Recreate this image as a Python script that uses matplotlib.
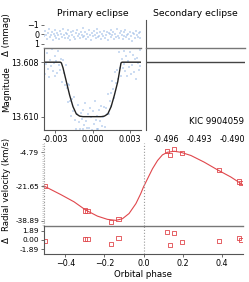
import numpy as np
import matplotlib
matplotlib.use('Agg')
import matplotlib.pyplot as plt
import matplotlib.ticker

# ---- データ ----
# 主食 (primary eclipse) の測光
lc_phase = [-0.00386, -0.00379, -0.00371, -0.00366, -0.00357, -0.00349, -0.00343, -0.00336, -0.00327, -0.0032,
            -0.00312, -0.00305, -0.00298, -0.0029, -0.00283, -0.00274, -0.00268, -0.00261, -0.00252, -0.00245,
            -0.00238, -0.0023, -0.00222, -0.00215, -0.00208, -0.002, -0.00193, -0.00185, -0.00177, -0.00171,
            -0.00163, -0.00155, -0.00148, -0.0014, -0.00133, -0.00125, -0.00118, -0.0011, -0.00103, -0.00095,
            -0.00087, -0.0008, -0.00073, -0.00065, -0.00058, -0.0005, -0.00042, -0.00035, -0.00027, -0.0002,
            -0.00012, -0.00005, 0.00003, 0.0001, 0.00018, 0.00025, 0.00033, 0.0004, 0.00047, 0.00055,
            0.00062, 0.0007, 0.00078, 0.00085, 0.00092, 0.001, 0.00108, 0.00115, 0.00122, 0.0013,
            0.00137, 0.00145, 0.00152, 0.0016, 0.00167, 0.00175, 0.00183, 0.0019, 0.00197, 0.00205,
            0.00212, 0.0022, 0.00227, 0.00235, 0.00243, 0.0025, 0.00257, 0.00265, 0.00272, 0.0028,
            0.00287, 0.00295, 0.00302, 0.0031, 0.00318, 0.00325, 0.00333, 0.0034, 0.00347, 0.00355,
            0.00362, 0.0037, 0.00378, 0.00385]
lc_mag = [13.60782, 13.60842, 13.60807, 13.60767, 13.60825, 13.60856, 13.60791, 13.60814, 13.60753, 13.60831,
          13.60802, 13.60778, 13.60849, 13.60794, 13.60838, 13.60759, 13.60811, 13.60827, 13.60789, 13.60871,
          13.60792, 13.60838, 13.60883, 13.60810, 13.60895, 13.60881, 13.60948, 13.60883, 13.60941, 13.60996,
          13.60935, 13.60979, 13.60929, 13.61011, 13.61044, 13.60990, 13.60958, 13.61020, 13.61046, 13.60986,
          13.61009, 13.61045, 13.60974, 13.61032, 13.60951, 13.61017, 13.61040, 13.60992, 13.61040, 13.60969,
          13.61003, 13.61048, 13.60981, 13.61026, 13.60943, 13.61012, 13.61045, 13.60996, 13.61046, 13.60977,
          13.61015, 13.60960, 13.61033, 13.61003, 13.60964, 13.61038, 13.60968, 13.60992, 13.60918, 13.60989,
          13.60941, 13.60912, 13.60960, 13.60868, 13.60900, 13.60933, 13.60836, 13.60875, 13.60827, 13.60860,
          13.60762, 13.60821, 13.60849, 13.60787, 13.60823, 13.60758, 13.60805, 13.60831, 13.60779, 13.60852,
          13.60794, 13.60818, 13.60763, 13.60844, 13.60809, 13.60773, 13.60835, 13.60789, 13.60861, 13.60784,
          13.60802, 13.60827, 13.60756, 13.60813]
lc_resid = [0.21, -0.34, 0.05, 0.48, -0.12, -0.55, 0.3, 0.02, -0.27, 0.61,
            -0.08, 0.19, -0.43, 0.36, -0.15, 0.07, 0.52, -0.31, -0.02, 0.25,
            -0.6, 0.11, 0.4, -0.19, -0.05, 0.33, -0.41, 0.14, 0.58, -0.24,
            0.03, -0.37, 0.22, 0.45, -0.1, -0.5, 0.17, 0.0, 0.39, -0.28,
            0.09, -0.66, 0.27, 0.12, -0.2, 0.5, -0.06, 0.31, -0.45, 0.04,
            0.62, -0.17, 0.2, -0.33, 0.08, 0.41, -0.11, -0.52, 0.26, 0.13,
            -0.29, 0.47, -0.03, 0.18, -0.39, 0.35, 0.06, -0.22, 0.55, -0.14,
            0.01, -0.48, 0.29, 0.1, -0.26, 0.43, -0.07, 0.23, -0.58, 0.16,
            0.37, -0.13, -0.35, 0.05, 0.5, -0.21, 0.12, -0.44, 0.28, 0.03,
            -0.09, 0.46, -0.3, 0.15, 0.64, -0.18, -0.01, 0.34, -0.4, 0.08,
            0.24, -0.16, 0.42, -0.25]

# 光度曲線モデル
lc_model_phase = [-0.0039, -0.00258, -0.0025, -0.00237, -0.0021, -0.00184, -0.00157, -0.0013, -0.00104, -0.00077,
                  0.0007, 0.00096, 0.00123, 0.0015, 0.00176, 0.00203, 0.00229, 0.00237, 0.0039]
lc_model_mag = [13.608, 13.608, 13.60803, 13.60821, 13.60872, 13.60921, 13.60963, 13.6099, 13.60998, 13.610,
                13.610, 13.60998, 13.6099, 13.60963, 13.60921, 13.60872, 13.60803, 13.608, 13.608]

# 副食 (secondary eclipse) : モデルのみ
sec_model_phase = [-0.4979, -0.4888]
sec_model_mag = [13.608, 13.608]

# 視線速度
rv_phase = [-0.506, -0.301, -0.287, -0.168, -0.128, 0.120, 0.135, 0.156, 0.198, 0.385, 0.489, 0.499]
rv_value = [-21.65, -33.8, -34.0, -39.7, -37.9, -4.1, -6.1, -3.1, -5.4, -13.9, -19.4, -20.2]
rv_resid = [-0.14, 0.14, 0.27, -0.88, 0.47, 1.70, -1.03, 1.50, -0.35, -0.2, 0.47, 0.0]

# 視線速度モデル
rv_model_phase = [-0.51, -0.424, -0.356, -0.296, -0.236, -0.185, -0.142, -0.108, -0.074, -0.039,
                  -0.014, 0.0, 0.021, 0.046, 0.072, 0.097, 0.123, 0.157, 0.191, 0.243,
                  0.311, 0.379, 0.448, 0.513]
rv_model_value = [-21.65, -25.9, -29.5, -33.6, -36.6, -38.2, -38.7, -37.9, -35.3, -30.4,
                  -25.4, -22.1, -18.0, -13.1, -9.0, -6.2, -4.9, -4.4, -4.9, -6.5,
                  -9.8, -13.6, -17.2, -21.3]

# ---- 描画設定 ----
W, H = 249, 282
plt.rcParams['font.family'] = 'DejaVu Sans'
fig = plt.figure(figsize=(W / 100, H / 100), dpi=100)

def box(x0, y0, x1, y1):
    # ピクセル座標 -> figure座標
    return [x0 / W, 1 - y1 / H, (x1 - x0) / W, (y1 - y0) / H]

spine_col = '#555555'
sep_col = '#777777'
pt_col = '#8fb2e3'
red = '#e0474c'
tfs = 5.8
lfs = 6.2

def add(rect):
    ax = fig.add_axes(rect)
    ax.patch.set_visible(False)
    return ax

# 主食 残差
ax_pr = add(box(44, 20, 141, 48.3))
ax_pr.scatter(lc_phase, lc_resid, s=2.5, marker='s', color=pt_col, alpha=0.45, linewidths=0)
ax_pr.set_xlim(-0.0039, 0.0039)
ax_pr.set_ylim(1.45, -1.5)
ax_pr.set_yticks([-1, 0, 1])
ax_pr.set_xticks([])
for s in ['top', 'right', 'left', 'bottom']:
    ax_pr.spines[s].set_visible(False)
ax_pr.tick_params(axis='y', labelsize=tfs, length=2, width=0.6, pad=1.5, color=spine_col)
ax_pr.set_ylabel('Δ (mmag)', fontsize=lfs)
ax_pr.set_title('Primary eclipse', fontsize=6.7, pad=3)

# 主食 光度
ax_pm = add(box(44, 48.3, 141, 130))
ax_pm.scatter(lc_phase, lc_mag, s=2.5, marker='s', color=pt_col, alpha=0.45, linewidths=0)
ax_pm.plot(lc_model_phase, lc_model_mag, color='#222222', linewidth=1.0)
ax_pm.set_xlim(-0.0039, 0.0039)
ax_pm.set_ylim(13.61049, 13.60749)
ax_pm.set_yticks([13.608, 13.610])
ax_pm.set_yticklabels(['13.608', '13.610'])
ax_pm.set_xticks([-0.003, 0.0, 0.003])
ax_pm.set_xticklabels(['-0.003', '0.000', '0.003'])
ax_pm.spines['right'].set_visible(False)
ax_pm.spines['top'].set_color(sep_col)
ax_pm.spines['top'].set_linewidth(1.0)
for s in ['left', 'bottom']:
    ax_pm.spines[s].set_color(spine_col)
    ax_pm.spines[s].set_linewidth(0.8)
ax_pm.tick_params(labelsize=tfs, length=2, width=0.6, pad=1.5, color=spine_col)
ax_pm.set_ylabel('Magnitude', fontsize=lfs)
ax_pm.yaxis.set_label_coords(-0.34, 0.5)
ax_pr.yaxis.set_label_coords(-0.34, 0.5)

# 副食 残差
ax_sr = add(box(146, 20, 245, 48.3))
ax_sr.set_xlim(-0.4979, -0.4888)
ax_sr.set_ylim(1.45, -1.5)
ax_sr.set_xticks([])
ax_sr.set_yticks([])
for s in ['top', 'right', 'bottom']:
    ax_sr.spines[s].set_visible(False)
ax_sr.spines['left'].set_color(spine_col)
ax_sr.spines['left'].set_linewidth(0.8)
ax_sr.set_title('Secondary eclipse', fontsize=6.7, pad=3)

# 副食 光度
ax_sm = add(box(146, 48.3, 245, 130))
ax_sm.plot(sec_model_phase, sec_model_mag, color='#444444', linewidth=1.0)
ax_sm.set_xlim(-0.4979, -0.4888)
ax_sm.set_ylim(13.61049, 13.60749)
ax_sm.set_yticks([])
ax_sm.set_xticks([-0.496, -0.493, -0.490])
ax_sm.set_xticklabels(['-0.496', '-0.493', '-0.490'])
for s in ['right', 'bottom']:
    ax_sm.spines[s].set_visible(False)
ax_sm.spines['top'].set_color(sep_col)
ax_sm.spines['top'].set_linewidth(1.0)
ax_sm.spines['left'].set_color(spine_col)
ax_sm.spines['left'].set_linewidth(0.8)
ax_sm.tick_params(labelsize=tfs, length=0, pad=3.5)
ax_sm.text(0.99, 0.1, 'KIC 9904059', transform=ax_sm.transAxes, ha='right', va='center', fontsize=6.2)

# 視線速度
ax_rv = add(box(44, 143, 243, 226))
ax_rv.plot(rv_model_phase, rv_model_value, color=red, linewidth=0.8)
ax_rv.scatter(rv_phase, rv_value, s=9, marker='s', facecolors='none', edgecolors=red, linewidths=0.6)
ax_rv.axvline(0.0, color='#999999', linestyle=':', linewidth=0.8)
ax_rv.axvline(-0.51, color='#999999', linestyle=':', linewidth=0.8)
ax_rv.set_xlim(-0.51, 0.51)
ax_rv.set_ylim(-41.5, -0.3)
ax_rv.set_yticks([-4.79, -21.65, -38.89])
ax_rv.set_yticklabels(['-4.79', '-21.65', '-38.89'])
ax_rv.yaxis.set_minor_locator(matplotlib.ticker.MultipleLocator(1.0))
ax_rv.set_xticks([])
for s in ['top', 'right', 'left']:
    ax_rv.spines[s].set_visible(False)
ax_rv.spines['bottom'].set_color(sep_col)
ax_rv.spines['bottom'].set_linewidth(1.0)
ax_rv.tick_params(axis='y', which='major', labelsize=5.3, length=2, width=0.6, pad=1.5, color=spine_col)
ax_rv.tick_params(axis='y', which='minor', length=1.2, width=0.4, color='#aaaaaa')
ax_rv.set_ylabel('Radial velocity (km/s)', fontsize=lfs)

# 視線速度 残差
ax_rr = add(box(44, 226, 243, 254))
ax_rr.scatter(rv_phase, rv_resid, s=9, marker='s', facecolors='none', edgecolors=red, linewidths=0.6)
ax_rr.axvline(0.0, color='#999999', linestyle=':', linewidth=0.8)
ax_rr.set_xlim(-0.51, 0.51)
ax_rr.set_ylim(-2.9, 2.9)
ax_rr.set_yticks([1.89, 0.0, -1.89])
ax_rr.set_yticklabels(['1.89', '0.00', '-1.89'])
ax_rr.set_xticks([-0.4, -0.2, 0.0, 0.2, 0.4])
for s in ['top', 'right']:
    ax_rr.spines[s].set_visible(False)
for s in ['left', 'bottom']:
    ax_rr.spines[s].set_color(spine_col)
    ax_rr.spines[s].set_linewidth(0.8)
ax_rr.tick_params(axis='y', labelsize=5.3, length=2, width=0.6, pad=1.5, color=spine_col)
ax_rr.tick_params(axis='x', labelsize=tfs, length=2, width=0.6, pad=1.5, color=spine_col)
ax_rr.set_ylabel('Δ', fontsize=lfs)
ax_rr.set_xlabel('Orbital phase', fontsize=lfs, labelpad=1.5)
ax_rv.yaxis.set_label_coords(-0.165, 0.5)
ax_rr.yaxis.set_label_coords(-0.165, 0.5)

plt.savefig('out.png', dpi=100)
